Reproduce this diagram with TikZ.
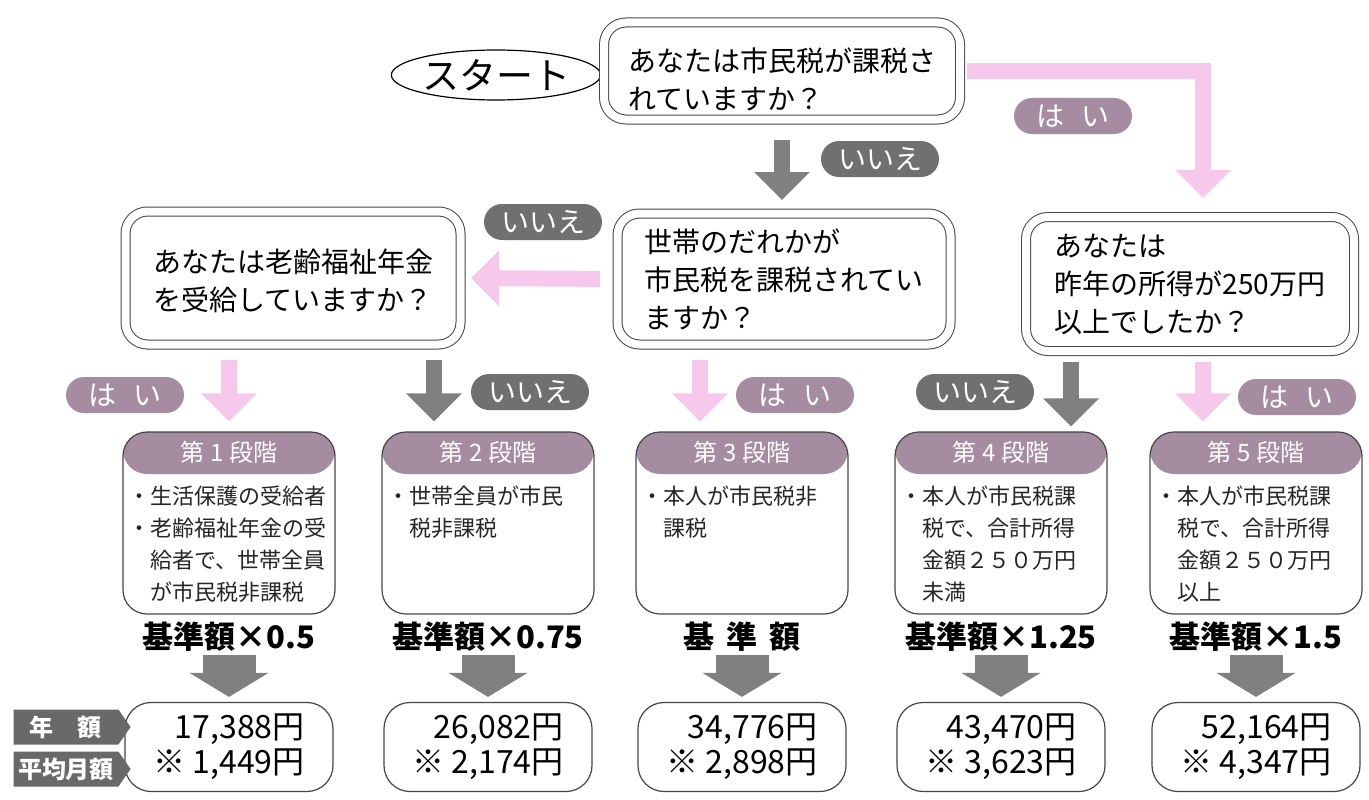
\documentclass[tikz,border=0pt]{standalone}
\usepackage{fontspec}
\setmainfont{Noto Sans CJK JP}
\usetikzlibrary{arrows.meta,shapes.geometric,shapes.symbols,shapes.misc,positioning}

\definecolor{pinkarr}{RGB}{246,200,236}
\definecolor{mauve}{RGB}{166,140,160}
\definecolor{darkbadge}{RGB}{112,112,112}
\definecolor{grayarr}{RGB}{128,128,128}
\definecolor{tagfill}{RGB}{105,105,105}
\definecolor{boxline}{RGB}{70,70,70}

\tikzset{
  qbox/.style={draw=boxline, line width=1pt, double, double distance=8pt, rounded corners=22pt,
    align=left, inner sep=0pt, font=\fontsize{28}{38}\selectfont},
  startnode/.style={draw, ellipse, line width=1.2pt, minimum width=150pt, minimum height=50pt,
    inner sep=0pt, font=\fontsize{37}{37}\selectfont},
  stagebox/.style={draw=boxline, line width=1.2pt, rounded corners=24pt, minimum width=212pt,
    minimum height=182pt, path picture={\fill[mauve] (path picture bounding box.north west)
    rectangle ([yshift=-42pt]path picture bounding box.north east);}},
  stagehead/.style={text=white, font=\fontsize{24}{24}\selectfont},
  stagebody/.style={align=left, inner sep=0pt, font=\fontsize{22}{32}\selectfont, text=black!85},
  basetext/.style={font=\bfseries\fontsize{31}{31}\selectfont},
  resbox/.style={draw=boxline, line width=1.2pt, rounded corners=26pt, minimum width=208pt,
    minimum height=89pt, align=right, font=\fontsize{32}{35}\selectfont},
  tag/.style={signal, signal to=east, signal pointer angle=110, fill=tagfill, text=white,
    minimum width=117pt, minimum height=35pt, inner sep=0pt, font=\bfseries\fontsize{24}{24}\selectfont},
  yesbadge/.style={rounded rectangle, fill=mauve, text=white, minimum width=118pt,
    minimum height=36pt, inner sep=0pt, font=\fontsize{28}{28}\selectfont},
  nobadge/.style={yesbadge, fill=darkbadge},
  pinkarrow/.style={draw=pinkarr, line width=16pt, -{Triangle[length=28pt, width=54pt]},
    shorten <=15pt, shorten >=10pt},
  grayarrow/.style={pinkarrow, draw=grayarr},
  bigarrow/.style={draw=grayarr, line width=53pt, -{Triangle[length=24pt, width=78pt]}, shorten >=5pt},
}

\begin{document}
\begin{tikzpicture}[x=1pt,y=-1pt]
  \useasboundingbox[fill=white] (0,0) rectangle (1369,800);

  % questions
  \node[startnode] (start) at (496,75) {スタート};
  \node[qbox, minimum width=356pt, minimum height=97pt] (q1) at (782,71)
    {\rule{0pt}{40pt}あなたは市民税が課税さ\\れていますか？};
  \node[qbox, minimum width=333pt, minimum height=131pt] (q2) at (784,279)
    {世帯のだれかが\\市民税を課税されてい\\ますか？};
  \node[qbox, minimum width=335pt, minimum height=133pt] (q3) at (293,278)
    {\rule{0pt}{30pt}あなたは老齢福祉年金\\を受給していますか？};
  \node[qbox, minimum width=328pt, minimum height=134pt] (q4) at (1190,284)
    {あなたは\\昨年の所得が250万円\\以上でしたか？};

  % stages
  \foreach \i/\x in {1/229,2/488,3/742,4/1001,5/1256} {
    \node[stagebox] (s\i) at (\x,523) {};
    \node[stagehead] (h\i) at ([yshift=-21pt]s\i.north) {第 \i\ 段階};
  }
  \node[stagebody, anchor=north west] (b1) at ([xshift=6pt,yshift=-54pt]s1.north west)
    {・生活保護の受給者\\・老齢福祉年金の受\\\phantom{・}給者で、世帯全員\\\phantom{・}が市民税非課税};
  \node[stagebody, anchor=north west] (b2) at ([xshift=6pt,yshift=-54pt]s2.north west)
    {・世帯全員が市民\\\phantom{・}税非課税};
  \node[stagebody, anchor=north west] (b3) at ([xshift=6pt,yshift=-54pt]s3.north west)
    {・本人が市民税非\\\phantom{・}課税};
  \node[stagebody, anchor=north west] (b4) at ([xshift=6pt,yshift=-54pt]s4.north west)
    {・本人が市民税課\\\phantom{・}税で、合計所得\\\phantom{・}金額２５０万円\\\phantom{・}未満};
  \node[stagebody, anchor=north west] (b5) at ([xshift=6pt,yshift=-54pt]s5.north west)
    {・本人が市民税課\\\phantom{・}税で、合計所得\\\phantom{・}金額２５０万円\\\phantom{・}以上};

  % amounts
  \foreach \i/\x/\base/\yr/\mo in {1/229/{基準額×0.5}/{17,388}/{1,449},
      2/488/{基準額×0.75}/{26,082}/{2,174},
      3/742/{基\hspace{0.4em}準\hspace{0.4em}額}/{34,776}/{2,898},
      4/1001/{基準額×1.25}/{43,470}/{3,623},
      5/1256/{基準額×1.5}/{52,164}/{4,347}} {
    \node[basetext] (k\i) at (\x,637) {\base};
    \node[resbox] (r\i) at (\x,747) {\yr 円\\※ \mo 円};
    \draw[bigarrow] (k\i.south) -- (r\i.north);
  }
  \node[tag] (tyear) at (66,727) {年　額};
  \node[tag] (tmonth) at (66,769) {平均月額};

  % connectors
  \coordinate (q4in) at (1203,208);
  \draw[pinkarrow, shorten <=6pt] (q1.east) -| (q4in);
  \draw[grayarrow, shorten <=20pt, shorten >=13pt] (q1.south) -- (q1.south |- q2.north);
  \draw[pinkarrow, shorten <=17pt] (q2.west) -- (q3.east);
  \draw[pinkarrow] (q3.south -| s1.north) -- (s1.north);
  \draw[grayarrow] ([xshift=-54pt]s2.north |- q3.south) -- ([xshift=-54pt]s2.north);
  \draw[pinkarrow] ([xshift=-42pt]s3.north |- q2.south) -- ([xshift=-42pt]s3.north);
  \draw[grayarrow, shorten <=10pt, shorten >=5pt] ([xshift=70pt]s4.north |- q4.south) -- ([xshift=70pt]s4.north);
  \draw[pinkarrow, shorten <=10pt] ([xshift=-53pt]s5.north |- q4.south) -- ([xshift=-53pt]s5.north);

  % answers
  \node[yesbadge] (yes1) at (1073,116) {は\hspace{0.6em}い};
  \node[nobadge] (no1) at (880,159) {いいえ};
  \node[nobadge] (no2) at (543,222) {いいえ};
  \node[yesbadge] (yes2) at (125,395) {は\hspace{0.6em}い};
  \node[nobadge] (no3) at (530,392) {いいえ};
  \node[yesbadge] (yes3) at (795,395) {は\hspace{0.6em}い};
  \node[nobadge] (no4) at (975,392) {いいえ};
  \node[yesbadge] (yes4) at (1297,397) {は\hspace{0.6em}い};
\end{tikzpicture}
\end{document}
